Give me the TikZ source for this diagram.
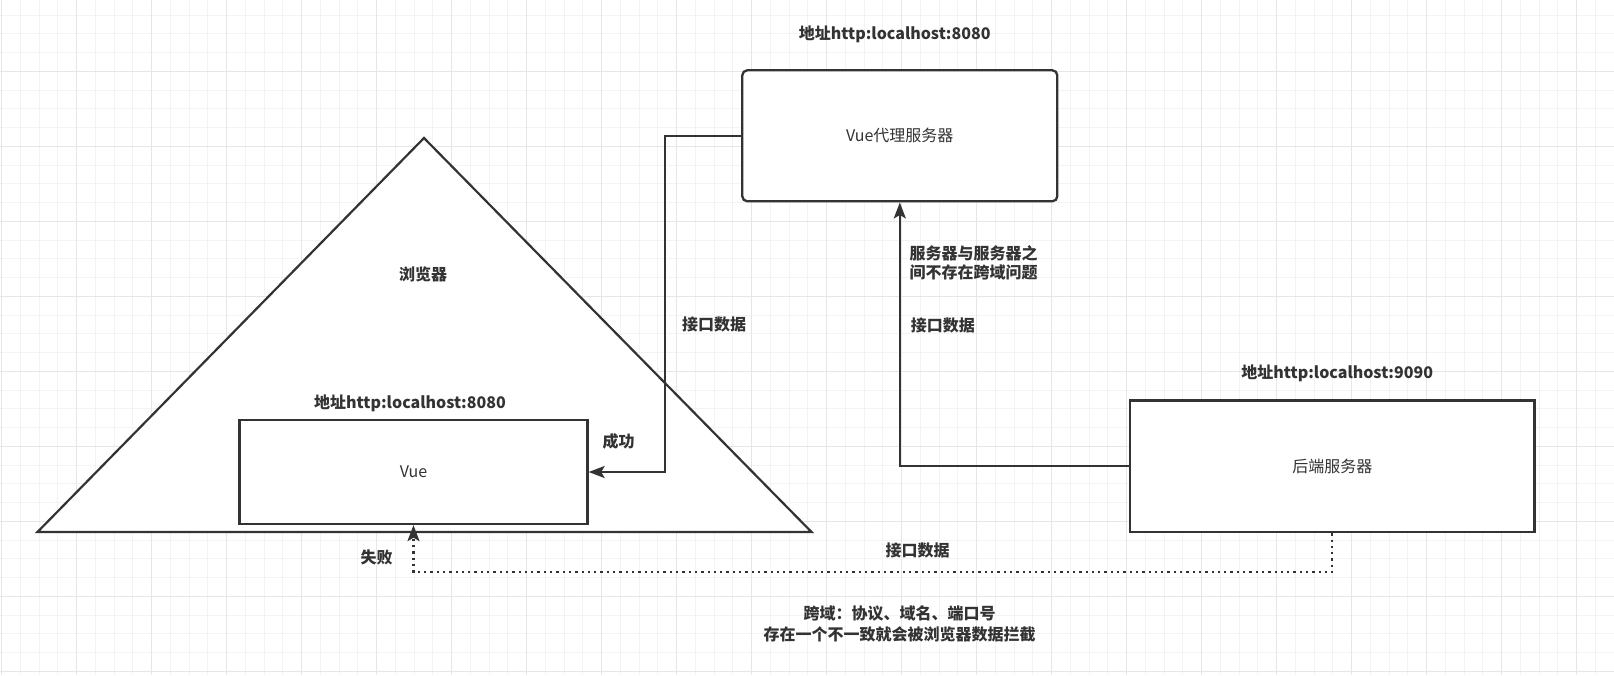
\documentclass[tikz,border=0pt]{standalone}
\usepackage{fontspec}
\setmainfont{Noto Sans CJK SC}
\usetikzlibrary{arrows.meta}
\definecolor{ink}{HTML}{333333}
\definecolor{gridminor}{HTML}{F3F3F3}
\definecolor{gridmajor}{HTML}{E6E6E6}
\tikzset{
  boxnode/.style={draw=ink, line width=2.3pt, fill=white, text=ink, inner sep=0pt,
    font=\fontsize{16}{19}\selectfont},
  lbl/.style={text=ink, inner sep=0pt, font=\bfseries\fontsize{16}{19.5}\selectfont},
  conn/.style={draw=ink, line width=2.3pt, -{Stealth[length=16pt,width=12pt,inset=3.5pt]}},
  dotconn/.style={conn, dash pattern=on 2.3pt off 4pt},
}
\begin{document}
\begin{tikzpicture}[x=1pt,y=-1pt]
\useasboundingbox (0,0) rectangle (1614,675);
\fill[white] (0,0) rectangle (1614,675);
% grid
\foreach \i in {0,...,86} {
  \draw[gridminor, line width=1pt] ({1.7+18.75*\i},0) -- ({1.7+18.75*\i},675);
}
\foreach \i in {0,...,36} {
  \draw[gridminor, line width=1pt] (0,{15+18.75*\i}) -- (1614,{15+18.75*\i});
}
\foreach \i in {0,...,21} {
  \draw[gridmajor, line width=1pt] ({1.7+75*\i},0) -- ({1.7+75*\i},675);
}
\foreach \i in {1,...,9} {
  \draw[gridmajor, line width=1pt] (0,{-3.75+75*\i}) -- (1614,{-3.75+75*\i});
}
% browser triangle
\coordinate (apex) at (424,138);
\coordinate (bright) at (811.5,532);
\coordinate (bleft) at (37.5,532);
\draw[draw=ink, line width=2.2pt, fill=white] (apex) -- (bright) -- (bleft) -- cycle;
% boxes
\node[boxnode, minimum width=348pt, minimum height=104pt] (vue) at (413.5,472) {Vue};
\node[boxnode, rounded corners=5pt, minimum width=315pt, minimum height=131pt] (proxy) at (899.8,135.8) {Vue代理服务器};
\node[boxnode, minimum width=404.5pt, minimum height=131.5pt] (backend) at (1332.3,466.3) {后端服务器};
% connectors
\draw[conn] (proxy.west) -- (665,135.8) |- (vue.east);
\draw[conn] (backend.west) -| (proxy.south);
\draw[dotconn] (backend.south) -- ++(0,39) -| (vue.south);
% labels
\node[lbl] (lproxyaddr) at (894.7,34) {地址http:localhost:8080};
\node[lbl] (lbrowser) at (423,274) {浏览器};
\node[lbl] (lvueaddr) at (410,403) {地址http:localhost:8080};
\node[lbl] (lok) at (618.6,441.7) {成功};
\node[lbl] (ldata1) at (714,324) {接口数据};
\node[lbl] (lfail) at (376.5,557.7) {失败};
\node[lbl, anchor=west, align=left] (lnocors) at (909.3,263) {服务器与服务器之\\间不存在跨域问题};
\node[lbl, anchor=west] (ldata2) at (910.7,325) {接口数据};
\node[lbl] (lbackaddr) at (1337.2,373.3) {地址http:localhost:9090};
\node[lbl] (ldata3) at (917.7,550) {接口数据};
\node[lbl, align=center, font=\bfseries\fontsize{16}{20.7}\selectfont] (lcors) at (899.7,623.7) {跨域：协议、域名、端口号\\存在一个不一致就会被浏览器数据拦截};
\end{tikzpicture}
\end{document}
